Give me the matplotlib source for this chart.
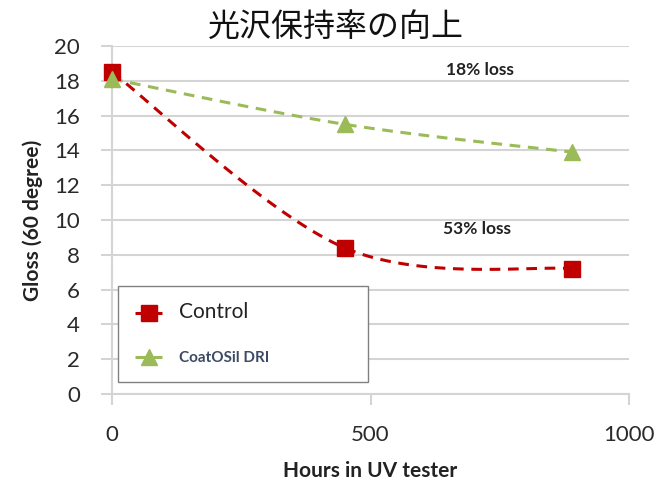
import matplotlib.pyplot as plt
import numpy as np

# data
hours = [0, 450, 890]
control = [18.5, 8.4, 7.2]
coatosil = [18.1, 15.5, 13.9]
series_names = ['Control', 'CoatOSil DRI']
notes = ['18% loss', '53% loss']
note_xy = [(712, 18.6), (706, 9.5)]
yticks = list(range(0, 21, 2))
xticks = [0, 500, 1000]

red = '#c00000'
green = '#9bbb59'
grid = '#d4d4d4'


def excel_smooth(x, y, n=60):
    # catmull-rom style bezier, similar to excel's "smoothed line"
    pts = np.column_stack([x, y]).astype(float)
    ext = np.vstack([pts[0], pts, pts[-1]])
    out = []
    t = np.linspace(0, 1, n)[:, None]
    for i in range(len(pts) - 1):
        p0, p1, p2, p3 = ext[i], ext[i + 1], ext[i + 2], ext[i + 3]
        c1 = p1 + (p2 - p0) / 6
        c2 = p2 - (p3 - p1) / 6
        seg = (1 - t)**3 * p1 + 3 * (1 - t)**2 * t * c1 + 3 * (1 - t) * t**2 * c2 + t**3 * p2
        out.append(seg if i == 0 else seg[1:])
    return np.vstack(out)


plt.rcParams['font.family'] = ['Lato', 'DejaVu Sans']

fig = plt.figure(figsize=(6.57, 4.82), dpi=100)
ax = fig.add_axes([112 / 657, 1 - 394 / 482, 517 / 657, 348 / 482])

for vals, col, mk, ms in [(control, red, 's', 11), (coatosil, green, '^', 12)]:
    sm = excel_smooth(hours, vals)
    ax.plot(sm[:, 0], sm[:, 1], color=col, lw=2.2, dashes=(3.5, 2.5), clip_on=False, zorder=3)
    ax.plot(hours, vals, ls='none', marker=mk, ms=ms, color=col, clip_on=False, zorder=4)

# legend handles
h1, = ax.plot([], [], color=red, lw=2.2, dashes=(3.5, 2.5), marker='s', ms=11)
h2, = ax.plot([], [], color=green, lw=2.2, dashes=(3.5, 2.5), marker='^', ms=12)
leg = ax.legend([h1, h2], series_names, loc='lower left',
                bbox_to_anchor=(6 / 517, 12 / 348, 250 / 517, 98 / 348), mode='expand',
                fancybox=False, framealpha=1, edgecolor='#808080', numpoints=1,
                handlelength=2.0, handletextpad=1.2, borderpad=1.2, labelspacing=2.1,
                borderaxespad=0)
leg.get_frame().set_linewidth(1.0)
t1, t2 = leg.get_texts()
t1.set_fontsize(15)
t1.set_color('#222222')
t2.set_fontsize(11)
t2.set_fontweight('bold')
t2.set_color('#3c4a66')

for (nx, ny), s in zip(note_xy, notes):
    ax.text(nx, ny, s, ha='center', va='center', fontsize=12.5, fontweight='bold', color='#222222')

ax.set_xlim(0, 1000)
ax.set_ylim(0, 20)
ax.set_xticks(xticks)
ax.set_yticks(yticks)
ax.yaxis.grid(True, color=grid, lw=1.5)
ax.set_axisbelow(True)
for s in ['top', 'right']:
    ax.spines[s].set_visible(False)
for s in ['left', 'bottom']:
    ax.spines[s].set_color(grid)
    ax.spines[s].set_linewidth(1.5)
ax.tick_params(axis='both', colors=grid, length=8, width=1.5, labelsize=16, labelcolor='#2a2a2a')
ax.tick_params(axis='y', pad=15)
ax.tick_params(axis='x', pad=14)

ax.set_xlabel('Hours in UV tester', fontsize=15, fontweight='bold', color='#222222', labelpad=12)
ax.set_ylabel('Gloss (60 degree)', fontsize=15, fontweight='bold', color='#222222', labelpad=8)

fig.text(336 / 657, 1 - 27 / 482, '光沢保持率の向上', ha='center', va='center', fontsize=23,
         family=['Noto Sans CJK JP', 'DejaVu Sans'], color='#111111')

fig.savefig('out.png', dpi=100)
